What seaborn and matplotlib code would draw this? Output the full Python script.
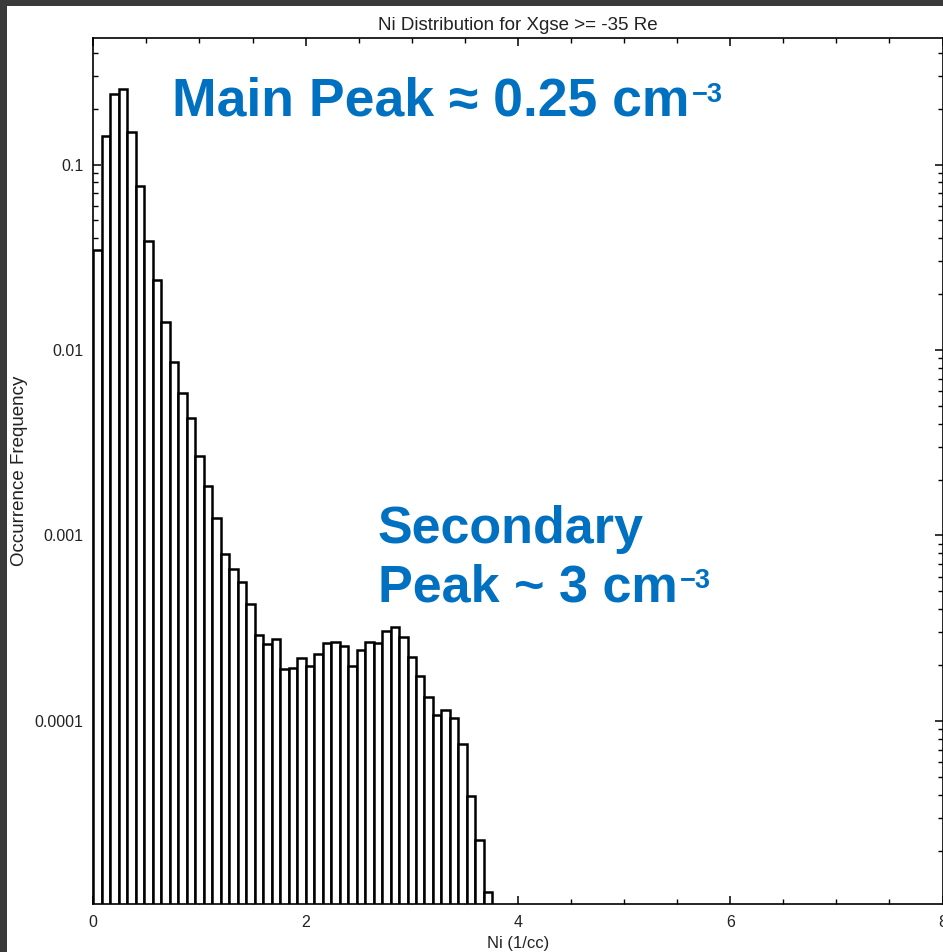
import numpy as np
import pandas as pd
import matplotlib
matplotlib.use("Agg")
import matplotlib.pyplot as plt
from matplotlib.ticker import LogLocator, MultipleLocator, NullFormatter, FixedLocator
from matplotlib.patches import Rectangle
import seaborn as sns

# Occurrence frequency of ion density, one value per 0.08 /cc bin starting at 0
bin_width = 0.08
frequency = [
    0.0346, 0.143, 0.239, 0.256, 0.150, 0.0766, 0.0387, 0.0238, 0.0141, 0.00865,
    0.00584, 0.00428, 0.00268, 0.00185, 0.00124, 0.000792, 0.000659, 0.000560,
    0.000428, 0.000289, 0.000259, 0.000277, 0.000191, 0.000194, 0.000219,
    0.000198, 0.000229, 0.000264, 0.000268, 0.000255, 0.000198, 0.000241,
    0.000268, 0.000264, 0.000305, 0.000321, 0.000285, 0.000220, 0.000175,
    0.000134, 0.000108, 0.000114, 0.000104, 7.52e-5, 3.93e-5, 2.28e-5, 1.2e-5,
]
y_ticks = [1e-4, 1e-3, 1e-2, 1e-1]
y_tick_labels = ["0.0001", "0.001", "0.01", "0.1"]
x_ticks = [0, 2, 4, 6, 8]

bin_edges = bin_width * np.arange(len(frequency) + 1)
bin_centers = 0.5 * (bin_edges[:-1] + bin_edges[1:])
hist_df = pd.DataFrame({"density": bin_centers, "frequency": frequency})

sns.set_style("ticks")
plt.rcParams["font.family"] = ["Liberation Sans", "DejaVu Sans"]

W, H = 943, 952
fig = plt.figure(figsize=(W / 100, H / 100), dpi=100, facecolor="white")
ax = fig.add_axes([93.3 / W, (H - 904) / H, (942.5 - 93.3) / W, (904 - 38) / H])

sns.histplot(
    data=hist_df, x="density", weights="frequency", bins=list(bin_edges), stat="count",
    color="white", edgecolor="black", linewidth=1.8, alpha=1.0, ax=ax,
)
ax.set_yscale("log")
ax.set_xlim(0, 8)
ax.set_ylim(1.03e-5, 0.481)

ax.xaxis.set_major_locator(FixedLocator(x_ticks))
ax.xaxis.set_minor_locator(MultipleLocator(0.5))
ax.set_yticks(y_ticks)
ax.set_yticklabels(y_tick_labels)
ax.yaxis.set_minor_locator(LogLocator(base=10, subs=np.arange(2, 10)))
ax.yaxis.set_minor_formatter(NullFormatter())

ax.tick_params(which="both", direction="in", top=True, right=True,
               color="black", labelcolor="#222222", labelsize=11.5)
ax.tick_params(which="major", length=6, width=1.1)
ax.tick_params(which="minor", length=3.5, width=1.0)
ax.tick_params(axis="x", which="major", pad=8)
ax.tick_params(axis="y", which="major", pad=7)

for s in ax.spines.values():
    s.set_linewidth(1.2)
    s.set_color("black")
    s.set_visible(True)

ax.set_xlabel("Ni (1/cc)", fontsize=12, color="#222222", labelpad=4)
ax.set_ylabel("Occurrence Frequency", fontsize=13.5, color="#222222", labelpad=5)
ax.set_title("Ni Distribution for Xgse >= -35 Re", fontsize=13.5, color="#222222", pad=6)

# Callouts, with the unit exponent set as a small raised label after each one
blue = "#0070C0"
callout_font = ["Liberation Sans", "DejaVu Sans"]


def callout(x_px, baseline_px, text, size):
    t = fig.text(x_px / W, 1 - baseline_px / H, text, color=blue, fontsize=size,
                 fontweight="bold", family=callout_font, va="baseline", ha="left")
    ax.annotate("\u22123", xy=(1, 0), xycoords=t, xytext=(2, 24),
                textcoords="offset pixels", color=blue, fontsize=19.5,
                fontweight="bold", family=callout_font, va="baseline", ha="left",
                annotation_clip=False)
    return t


callout(172, 115, "Main Peak \u2248 0.25 cm", 38.5)
fig.text(378 / W, 1 - 543 / H, "Secondary", color=blue,
         fontsize=37.5, fontweight="bold", family=callout_font, va="baseline", ha="left")
callout(378, 601, "Peak ~ 3 cm", 37.5)

# Dark frame strips along the top and left edges
fig.patches.append(Rectangle((0, 1 - 6 / H), 1, 6 / H, transform=fig.transFigure,
                             facecolor="#3a3a3a", edgecolor="none", zorder=10))
fig.patches.append(Rectangle((0, 0), 7.5 / W, 1, transform=fig.transFigure,
                             facecolor="#3a3a3a", edgecolor="none", zorder=10))

fig.savefig("out.png", dpi=100, facecolor="white")
